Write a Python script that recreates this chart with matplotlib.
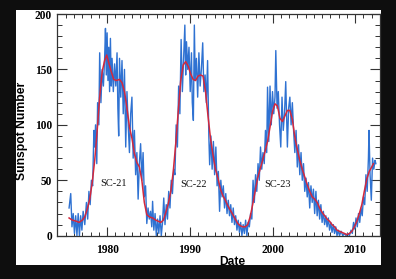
import matplotlib.pyplot as plt
from matplotlib.patches import Rectangle
from matplotlib.ticker import MultipleLocator

# ===================== 数据 =====================
# 月均太阳黑子数（蓝线）
blue_year = [
    1975.4, 1975.6, 1975.75, 1975.9, 1976.05, 1976.2, 1976.35, 1976.5, 1976.65, 1976.8,
    1976.95, 1977.1, 1977.3, 1977.5, 1977.65, 1977.8, 1977.95, 1978.1, 1978.25, 1978.4,
    1978.5, 1978.6, 1978.75, 1978.85, 1979.0, 1979.1, 1979.25, 1979.4, 1979.55, 1979.7,
    1979.8, 1979.9, 1980.0, 1980.1, 1980.2, 1980.3, 1980.4, 1980.5, 1980.6, 1980.75,
    1980.9, 1981.05, 1981.2, 1981.3, 1981.4, 1981.5, 1981.65, 1981.8, 1981.95, 1982.1,
    1982.25, 1982.4, 1982.55, 1982.7, 1982.85, 1983.0, 1983.15, 1983.3, 1983.45, 1983.6,
    1983.75, 1983.9, 1984.05, 1984.2, 1984.35, 1984.5, 1984.65, 1984.8, 1984.95, 1985.1,
    1985.25, 1985.4, 1985.5, 1985.65, 1985.8, 1985.95, 1986.1, 1986.25, 1986.4, 1986.55,
    1986.7, 1986.85, 1987.0, 1987.15, 1987.3, 1987.45, 1987.6, 1987.75, 1987.9, 1988.05,
    1988.2, 1988.35, 1988.5, 1988.65, 1988.8, 1988.95, 1989.1, 1989.25, 1989.4, 1989.5,
    1989.6, 1989.75, 1989.9, 1990.05, 1990.2, 1990.3, 1990.43, 1990.55, 1990.65, 1990.8,
    1990.95, 1991.1, 1991.25, 1991.4, 1991.56, 1991.7, 1991.85, 1992.0, 1992.15, 1992.3,
    1992.4, 1992.55, 1992.7, 1992.85, 1993.0, 1993.15, 1993.3, 1993.45, 1993.6, 1993.75,
    1993.9, 1994.05, 1994.2, 1994.35, 1994.5, 1994.65, 1994.8, 1994.95, 1995.1, 1995.25,
    1995.4, 1995.55, 1995.7, 1995.85, 1996.0, 1996.15, 1996.3, 1996.45, 1996.6, 1996.75,
    1996.9, 1997.05, 1997.2, 1997.35, 1997.5, 1997.65, 1997.8, 1997.95, 1998.1, 1998.25,
    1998.4, 1998.55, 1998.7, 1998.85, 1999.0, 1999.15, 1999.3, 1999.4, 1999.55, 1999.7,
    1999.85, 2000.0, 2000.15, 2000.3, 2000.4, 2000.55, 2000.7, 2000.85, 2001.0, 2001.15,
    2001.3, 2001.45, 2001.6, 2001.7, 2001.8, 2001.95, 2002.1, 2002.25, 2002.4, 2002.55,
    2002.7, 2002.85, 2003.0, 2003.15, 2003.3, 2003.45, 2003.6, 2003.75, 2003.9, 2004.05,
    2004.2, 2004.35, 2004.5, 2004.65, 2004.8, 2004.95, 2005.1, 2005.25, 2005.4, 2005.55,
    2005.7, 2005.85, 2006.0, 2006.15, 2006.3, 2006.45, 2006.6, 2006.75, 2006.9, 2007.05,
    2007.2, 2007.35, 2007.5, 2007.65, 2007.8, 2007.95, 2008.1, 2008.3, 2008.5, 2008.7,
    2008.9, 2009.1, 2009.3, 2009.5, 2009.65, 2009.8, 2009.95, 2010.1, 2010.25, 2010.4,
    2010.55, 2010.7, 2010.85, 2011.0, 2011.15, 2011.3, 2011.45, 2011.6, 2011.67, 2011.8,
    2011.95, 2012.1, 2012.25, 2012.4, 2012.5,
]
blue_ssn = [
    25, 38, 8, 20, 2, 18, 0, 20, 0, 18,
    5, 22, 10, 30, 15, 40, 28, 50, 45, 95,
    80, 100, 65, 120, 100, 165, 120, 150, 135, 160,
    187, 145, 183, 140, 170, 130, 178, 135, 160, 130,
    155, 135, 165, 115, 90, 160, 125, 158, 110, 150,
    80, 130, 100, 75, 110, 125, 70, 95, 55, 75,
    33, 65, 83, 50, 75, 35, 45, 11, 25, 15,
    22, 8, 31, 5, 20, 0, 15, 2, 18, 0,
    12, 34, 10, 28, 15, 40, 25, 50, 38, 60,
    55, 100, 80, 135, 110, 177, 130, 160, 190, 145,
    175, 150, 170, 130, 165, 120, 104, 190, 140, 160,
    125, 165, 135, 150, 174, 130, 145, 120, 158, 90,
    64, 90, 60, 85, 55, 80, 45, 58, 22, 50,
    35, 45, 25, 38, 20, 32, 18, 28, 12, 25,
    10, 18, 5, 14, 3, 12, 0, 10, 2, 14,
    0, 12, 8, 20, 15, 50, 30, 55, 40, 65,
    50, 80, 60, 75, 65, 95, 75, 134, 85, 135,
    100, 130, 110, 125, 167, 115, 130, 100, 80, 125,
    95, 110, 139, 110, 80, 115, 125, 100, 120, 95,
    75, 95, 62, 82, 55, 75, 50, 65, 40, 52,
    35, 48, 25, 45, 30, 42, 20, 40, 18, 32,
    15, 28, 12, 22, 10, 18, 8, 16, 5, 12,
    3, 10, 2, 8, 0, 5, 0, 4, 0, 2,
    0, 2, 0, 5, 2, 12, 6, 16, 8, 20,
    12, 25, 18, 35, 28, 55, 40, 70, 95, 55,
    32, 70, 60, 68, 65,
]

# 平滑太阳黑子数（红线）
red_year = [
    1975.4, 1975.8, 1976.3, 1976.6, 1977.0, 1977.3, 1977.6, 1977.9, 1978.2, 1978.5,
    1978.8, 1979.1, 1979.4, 1979.7, 1979.95, 1980.2, 1980.5, 1980.8, 1981.1, 1981.5,
    1981.8, 1982.1, 1982.4, 1982.7, 1983.0, 1983.3, 1983.6, 1983.9, 1984.2, 1984.5,
    1984.8, 1985.1, 1985.5, 1985.9, 1986.2, 1986.5, 1986.8, 1987.1, 1987.4, 1987.7,
    1988.0, 1988.3, 1988.6, 1988.9, 1989.2, 1989.5, 1989.8, 1990.1, 1990.4, 1990.7,
    1991.0, 1991.3, 1991.6, 1991.9, 1992.2, 1992.5, 1992.8, 1993.1, 1993.4, 1993.7,
    1994.0, 1994.3, 1994.6, 1994.9, 1995.2, 1995.5, 1995.8, 1996.1, 1996.4, 1996.7,
    1997.0, 1997.3, 1997.6, 1997.9, 1998.2, 1998.5, 1998.8, 1999.1, 1999.4, 1999.7,
    2000.0, 2000.3, 2000.6, 2000.9, 2001.2, 2001.5, 2001.8, 2002.1, 2002.4, 2002.7,
    2003.0, 2003.3, 2003.6, 2003.9, 2004.2, 2004.5, 2004.8, 2005.1, 2005.4, 2005.7,
    2006.0, 2006.3, 2006.6, 2006.9, 2007.2, 2007.5, 2007.8, 2008.1, 2008.4, 2008.7,
    2009.0, 2009.3, 2009.6, 2009.9, 2010.2, 2010.5, 2010.8, 2011.1, 2011.4, 2011.7,
    2012.0, 2012.2,
]
red_ssn = [
    16, 14, 13, 12, 14, 17, 24, 33, 48, 68,
    95, 125, 148, 158, 163, 156, 148, 141, 140, 141,
    138, 130, 115, 98, 88, 74, 66, 62, 50, 30,
    19, 17, 16, 14, 13, 12, 14, 21, 29, 40,
    58, 83, 112, 140, 154, 157, 153, 146, 141, 140,
    144, 145, 144, 130, 108, 88, 73, 60, 52, 42,
    36, 32, 27, 23, 19, 15, 11, 9, 8, 8,
    10, 17, 28, 40, 52, 60, 68, 76, 85, 98,
    112, 119, 117, 106, 103, 108, 113, 113, 105, 89,
    78, 68, 60, 53, 46, 40, 35, 33, 30, 25,
    21, 18, 15, 13, 10, 8, 5, 4, 3, 2,
    1, 2, 4, 8, 13, 20, 28, 40, 51, 58,
    62, 65,
]

cycle_labels = ['SC-21', 'SC-22', 'SC-23']
cycle_x = [1980.8, 1990.5, 2000.6]
cycle_y = [47, 46, 46]

# ===================== 绘图 =====================
fig = plt.figure(figsize=(3.96, 2.79), dpi=100, facecolor='#0e0e0e')
# 白色底板（放在坐标轴下面）
fig.patches.append(Rectangle((0.0404, 0.0502), 0.9217, 0.914,
                             transform=fig.transFigure, facecolor='white',
                             edgecolor='none', zorder=-10))

ax = fig.add_axes([0.1452, 0.1552, 0.8144, 0.7946])
ax.set_facecolor('white')

ax.plot(blue_year, blue_ssn, color='#2f72d2', lw=1.0, zorder=2)
ax.plot(red_year, red_ssn, color='#d4283c', lw=1.1, zorder=3)

for lab, x, y in zip(cycle_labels, cycle_x, cycle_y):
    ax.text(x, y, lab, ha='center', va='center', fontsize=7.5,
            family='Liberation Serif', color='#111111')

ax.set_xlim(1974, 2013)
ax.set_ylim(0, 200)
ax.xaxis.set_major_locator(MultipleLocator(10))
ax.xaxis.set_minor_locator(MultipleLocator(1))
ax.yaxis.set_major_locator(MultipleLocator(50))
ax.yaxis.set_minor_locator(MultipleLocator(10))

ax.tick_params(axis='x', which='major', direction='in', length=6.5, width=0.8,
               top=True, pad=6, labelsize=8.3, color='#333333')
ax.tick_params(axis='x', which='minor', direction='in', length=3, width=0.7,
               top=True, color='#333333')
ax.tick_params(axis='y', which='major', direction='in', length=7.2, width=0.8,
               right=True, pad=4, labelsize=8.3, color='#333333')
ax.tick_params(axis='y', which='minor', direction='in', length=3.6, width=0.7,
               right=True, color='#333333')
for lbl in ax.get_xticklabels() + ax.get_yticklabels():
    lbl.set_family('Liberation Serif')
    lbl.set_fontweight('bold')

for sp in ax.spines.values():
    sp.set_color('#333333')
    sp.set_linewidth(0.9)

ax.set_xlabel('Date', fontsize=8.7, fontweight='bold', family='Liberation Sans')
ax.set_ylabel('Sunspot Number', fontsize=8.7, fontweight='bold', family='Liberation Sans')
ax.xaxis.set_label_coords(0.541, -0.09)
ax.yaxis.set_label_coords(-0.09, 0.472)

fig.savefig('out.png', dpi=100, facecolor=fig.get_facecolor())
